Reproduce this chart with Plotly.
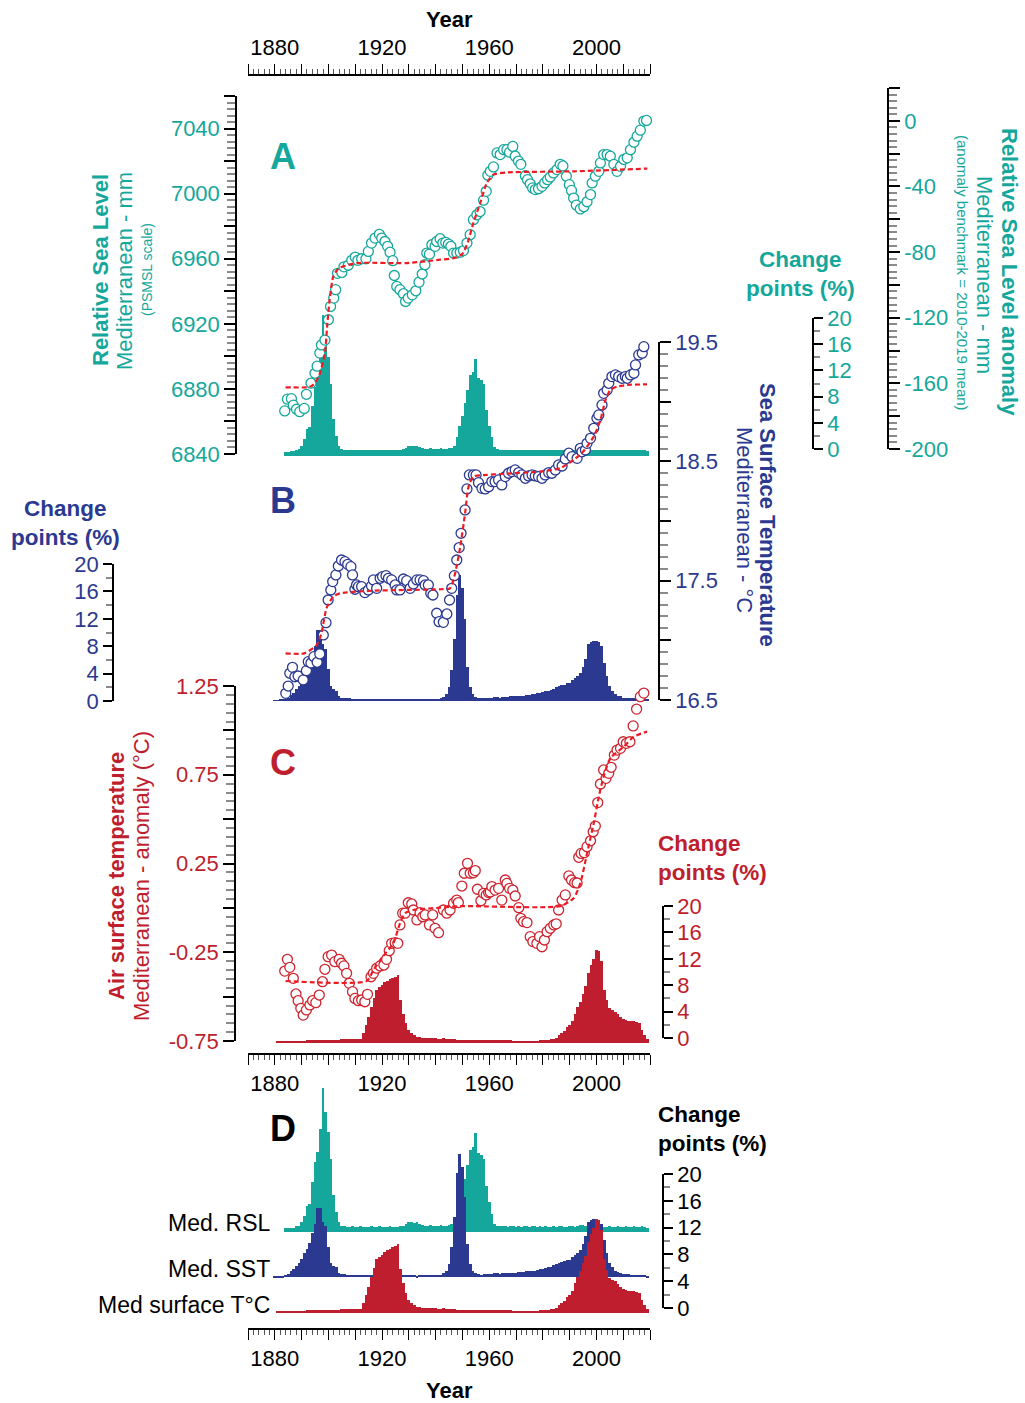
import plotly.graph_objects as go

W, H = 1025, 1403
def px(x): return x / W
def py(y): return 1 - y / H

TEAL = '#15A79B'
NAVY = '#2B3990'
RED = '#BE1E2D'
RED_PT = '#CC2530'
FIT = '#ED1C24'
FONT = 'Liberation Sans, Arial, sans-serif'

# ---------------- data ----------------
# Panel A: relative sea level (mm, PSMSL scale)
rsl_years = [1883.7,1884.7,1886.2,1886.9,1888.1,1889.3,1891.0,1891.8,1893.5,1895.0,
             1895.8,1896.8,1897.4,1898.7,1900.0,1900.8,1902.0,1902.7,1903.4,1905.0,
             1905.8,1907.4,1908.7,1910.0,1911.0,1912.4,1914.0,1914.9,1916.1,1917.4,
             1919.0,1919.9,1921.1,1922.1,1923.0,1924.0,1924.6,1925.5,1926.7,1928.0,
             1928.8,1929.8,1931.3,1932.6,1933.8,1935.0,1936.0,1936.7,1937.7,1938.6,
             1939.8,1940.4,1941.7,1942.7,1943.8,1944.8,1945.7,1946.7,1947.9,1949.2,
             1950.4,1951.7,1952.9,1954.1,1955.4,1956.6,1957.9,1958.9,1959.5,1960.4,
             1961.6,1962.9,1964.1,1965.4,1966.6,1967.6,1968.8,1969.7,1970.9,1971.8,
             1973.5,1974.3,1975.3,1976.2,1977.2,1978.4,1979.7,1980.7,1981.8,1982.8,
             1984.0,1985.3,1986.5,1987.5,1988.8,1989.9,1990.7,1991.5,1992.5,1994.0,
             1995.3,1996.5,1997.8,1998.4,1999.6,2000.9,2001.5,2002.7,2004.0,2005.2,
             2006.5,2007.7,2009.0,2010.2,2011.5,2012.7,2014.0,2015.2,2016.4,2017.7,
             2018.7]
rsl_vals = [6866.5,6873.7,6874.0,6870.0,6867.5,6866.0,6868.0,6876.7,6883.5,6889.6,
            6894.0,6902.0,6907.0,6910.0,6922.5,6930.7,6935.8,6941.0,6951.0,6951.6,
            6955.0,6956.0,6959.0,6961.0,6959.0,6960.0,6960.0,6964.5,6969.6,6972.7,
            6975.0,6972.7,6970.6,6967.6,6964.0,6958.8,6949.7,6943.0,6941.0,6938.5,
            6933.7,6935.8,6937.8,6940.3,6945.6,6950.6,6956.3,6963.5,6962.8,6968.6,
            6967.6,6970.6,6972.3,6969.6,6970.0,6969.0,6967.6,6963.5,6963.5,6964.0,
            6965.0,6969.6,6974.8,6984.0,6987.0,6989.0,6996.0,7001.4,7011.3,7013.7,
            7016.4,7025.0,7024.0,7027.0,7027.0,7025.5,7029.0,7023.0,7020.0,7018.0,
            7011.0,7008.6,7006.0,7003.5,7002.5,7003.0,7004.5,7006.6,7008.6,7010.3,
            7012.7,7014.8,7018.0,7017.0,7010.7,7005.5,7002.0,6997.3,6993.0,6990.6,
            6992.0,6995.0,6999.4,7006.6,7010.7,7013.7,7018.9,7024.0,7024.0,7023.0,
            7018.0,7013.7,7016.8,7021.0,7022.0,7027.0,7031.6,7035.3,7039.0,7044.6,
            7045.0]
rsl_fit_years = [1884, 1892, 1894, 1896.4, 1898.7, 1899.6, 1900.6, 1901.8, 1903.7, 1910.5,
                 1929, 1941.7, 1946.7, 1950, 1952, 1954.1, 1956.6, 1959.1, 1961.6, 1966.6,
                 1991.5, 2019]
rsl_fit_vals = [6881, 6881, 6882, 6887.6, 6902, 6920, 6936.8, 6949, 6954, 6957.3,
                6957.3, 6959.4, 6960.4, 6963, 6970, 6982, 6994, 7006.6, 7011.7, 7013,
                7013.7, 7015.4]
rsl_cp_years = list(range(1884, 2020))
rsl_cp = [0.6,0.6,0.7,0.7,0.9,1.0,1.5,
          2.5,4.0,4.3,7.6,10.5,12.0,15.5,21.5,18.0,15.0,
          11.0,5.6,3.0,1.5,1.0,0.9,0.8,0.8,0.9,0.8,
          0.8,0.9,0.8,0.8,0.8,0.9,0.8,0.8,0.9,0.8,
          0.8,0.8,0.9,0.8,0.8,0.8,0.9,1.0,1.2,1.5,
          1.5,1.4,1.5,1.3,1.1,1.0,1.0,1.1,1.0,1.0,
          1.0,1.1,1.0,1.0,1.1,1.2,1.5,2.8,4.6,6.0,
          8.0,10.0,12.3,12.8,14.8,11.8,11.5,11.0,7.0,4.5,
          2.8,1.3,1.0,0.9,0.9,0.9,0.8,0.9,0.9,0.8,
          0.9,0.8,0.9,0.9,0.8,0.9,0.9,0.8,0.9,0.8,
          0.9,0.8,0.8,0.9,0.8,0.9,0.9,0.8,0.8,0.9,
          0.9,0.8,1.0,1.1,1.1,1.0,0.9,0.9,0.8,0.9,
          0.8,0.9,0.8,0.8,0.9,0.8,0.8,0.9,0.8,0.8,
          0.9,0.8,0.8,0.9,0.8,0.8,0.9,0.8,0.7]

# Panel B: sea surface temperature (deg C)
sst_years = [1884.1,1885.0,1885.6,1886.6,1887.5,1888.7,1890.6,1891.8,1892.5,1893.5,
             1894.6,1895.8,1896.8,1898.1,1899.1,1899.9,1900.9,1901.6,1902.8,1903.7,
             1904.9,1906.2,1907.2,1908.4,1909.0,1909.9,1910.5,1911.2,1912.4,1913.6,
             1914.9,1916.1,1916.8,1918.0,1919.3,1920.2,1921.5,1922.4,1923.6,1924.9,
             1925.5,1926.7,1928.0,1929.2,1930.5,1931.7,1933.0,1934.2,1935.5,1936.1,
             1937.3,1938.2,1939.0,1940.4,1941.3,1942.9,1944.2,1945.2,1946.0,1947.0,
             1947.9,1948.8,1949.5,1951.0,1951.7,1952.6,1954.1,1955.1,1956.0,1957.3,
             1958.5,1959.8,1961.0,1962.2,1963.5,1964.7,1966.0,1967.2,1968.5,1969.7,
             1971.0,1972.2,1973.5,1974.7,1976.0,1977.2,1978.4,1979.7,1980.9,1982.2,
             1983.4,1984.7,1985.9,1987.2,1988.4,1989.7,1990.9,1992.8,1994.0,1994.6,
             1995.9,1996.5,1997.8,1999.0,2000.2,2000.9,2002.1,2002.7,2004.0,2004.6,
             2005.8,2007.1,2008.3,2009.6,2010.8,2011.5,2012.7,2014.0,2014.6,2015.8,
             2017.1,2017.7,2018.9]
sst_vals = [16.556,16.617,16.724,16.774,16.695,16.701,16.668,16.746,16.821,16.810,
            16.863,16.816,16.886,17.045,17.148,17.338,17.422,17.492,17.548,17.623,
            17.673,17.659,17.637,17.617,17.548,17.428,17.464,17.450,17.450,17.400,
            17.422,17.456,17.506,17.436,17.520,17.534,17.542,17.520,17.506,17.464,
            17.422,17.422,17.514,17.500,17.436,17.472,17.506,17.506,17.500,17.464,
            17.464,17.394,17.380,17.227,17.156,17.151,17.221,17.338,17.436,17.542,
            17.673,17.777,17.897,18.093,18.269,18.386,18.386,18.386,18.321,18.274,
            18.269,18.288,18.330,18.330,18.344,18.302,18.372,18.400,18.414,18.428,
            18.406,18.386,18.358,18.378,18.386,18.378,18.372,18.358,18.386,18.406,
            18.400,18.428,18.470,18.461,18.520,18.568,18.539,18.525,18.609,18.580,
            18.595,18.651,18.693,18.777,18.861,18.889,18.973,19.070,19.098,19.154,
            19.210,19.224,19.210,19.196,19.210,19.196,19.224,19.238,19.308,19.392,
            19.406,19.461,19.503]
sst_fit_years = [1884, 1891, 1895.6, 1897.4, 1899.3, 1901.8, 1904.3, 1916.8, 1941.7, 1945.4,
                 1947.3, 1949.2, 1951, 1952.3, 1954.1, 1959, 1964.1, 1979, 1986.5, 1991.5,
                 1995, 1999, 2001.5, 2003.4, 2005.2, 2007.7, 2011.5, 2018.9]
sst_fit_vals = [16.891, 16.891, 16.96, 17.059, 17.269, 17.366, 17.394, 17.416, 17.428, 17.436,
                17.562, 17.785, 18.065, 18.288, 18.372, 18.386, 18.394, 18.414, 18.442, 18.512,
                18.58, 18.707, 18.847, 19.015, 19.098, 19.126, 19.14, 19.145]
sst_cp_years = list(range(1880, 2020))
sst_cp = [0.1,0.1,0.15,0.2,0.3,0.5,0.9,1.2,1.7,2.2,
          2.7,3.7,4.3,5.1,6.6,8.0,10.3,10.3,8.3,7.6,
          4.6,2.2,1.7,1.5,0.7,0.5,0.5,0.4,0.4,0.35,
          0.3,0.3,0.3,0.3,0.3,0.3,0.3,0.3,0.3,0.3,
          0.3,0.3,0.25,0.3,0.3,0.3,0.25,0.3,0.3,0.3,
          0.3,0.3,0.3,0.25,0.3,0.3,0.3,0.3,0.3,0.3,
          0.3,0.3,0.4,0.6,1.0,2.0,4.5,9.0,15.5,18.4,
          16.5,12.0,5.0,2.0,1.0,0.6,0.5,0.4,0.5,0.5,
          0.5,0.5,0.6,0.6,0.5,0.6,0.6,0.6,0.7,0.7,
          0.7,0.8,0.8,0.8,0.9,0.9,1.0,1.0,1.1,1.2,
          1.3,1.4,1.5,1.6,1.8,2.0,2.2,2.3,2.4,2.6,
          2.6,3.0,3.4,3.6,4.1,5.0,6.1,8.3,8.6,8.7,
          8.7,8.6,8.0,5.6,3.7,2.2,1.5,1.0,0.8,0.7,
          0.5,0.5,0.5,0.4,0.4,0.4,0.3,0.3,0.3,0.2]

# Panel C: air surface temperature anomaly (deg C)
air_years = [1883.7,1884.7,1885.6,1886.9,1887.9,1888.7,1889.7,1890.6,1891.8,1893.1,
             1894.1,1895.3,1896.6,1897.8,1898.7,1899.9,1901.2,1902.4,1904.0,1904.9,
             1905.8,1906.8,1907.8,1909.0,1909.9,1911.2,1912.4,1913.6,1914.6,1915.9,
             1916.8,1918.0,1919.3,1920.7,1921.7,1922.7,1923.6,1924.9,1925.9,1926.7,
             1927.7,1928.6,1929.8,1931.1,1931.7,1933.0,1934.2,1935.2,1936.1,1937.7,
             1938.9,1939.8,1941.1,1942.9,1944.2,1945.4,1946.7,1947.9,1948.5,1949.8,
             1950.7,1951.9,1952.9,1954.1,1954.8,1955.6,1956.9,1957.9,1958.9,1959.8,
             1960.4,1961.0,1962.2,1963.5,1964.7,1966.0,1966.6,1967.6,1968.8,1969.7,
             1971.0,1971.8,1972.8,1974.1,1975.3,1976.3,1977.8,1978.8,1979.7,1980.6,
             1981.6,1982.8,1984.1,1985.0,1985.9,1987.2,1988.4,1989.7,1990.7,1991.9,
             1992.8,1993.4,1994.3,1995.5,1996.5,1997.8,1998.8,1999.6,2000.5,2001.5,
             2002.7,2003.6,2004.6,2005.5,2006.7,2007.7,2009.0,2010.0,2011.2,2012.5,
             2013.7,2015.0,2016.4,2017.7,2018.7]
air_vals = [-0.356,-0.290,-0.335,-0.397,-0.485,-0.523,-0.566,-0.604,-0.575,-0.547,
            -0.523,-0.534,-0.491,-0.416,-0.346,-0.275,-0.266,-0.303,-0.290,-0.312,
            -0.327,-0.369,-0.425,-0.472,-0.510,-0.523,-0.519,-0.529,-0.487,-0.388,
            -0.369,-0.340,-0.327,-0.322,-0.290,-0.241,-0.200,-0.196,-0.200,-0.096,
            -0.030,-0.030,0.029,0.022,-0.012,-0.068,-0.027,-0.050,-0.040,-0.096,
            -0.040,-0.115,-0.140,-0.012,-0.030,-0.012,0.026,0.044,0.030,0.123,
            0.195,0.251,0.195,0.198,0.210,0.105,0.040,0.082,0.073,0.086,
            0.090,0.120,0.100,0.110,0.044,0.157,0.138,0.110,0.100,0.067,
            0.001,-0.059,-0.078,-0.083,-0.162,-0.190,-0.200,-0.162,-0.219,-0.181,
            -0.134,-0.115,-0.096,-0.090,-0.012,0.044,0.073,0.180,0.157,0.142,
            0.140,0.285,0.307,0.311,0.345,0.378,0.429,0.461,0.593,0.698,
            0.777,0.730,0.758,0.792,0.861,0.889,0.899,0.936,0.927,0.936,
            1.025,1.120,1.190,1.210,1.293]
air_fit_years = [1884, 1914.3, 1916.8, 1920, 1924.2, 1926.7, 1928.6, 1931.7, 1941.7, 1949.2,
                 1986.5, 1991.5, 1994, 1996.5, 1999, 2000.9, 2002.7, 2005.2, 2010.2, 2013.9,
                 2018.9]
air_fit_vals = [-0.412, -0.412, -0.35, -0.28, -0.20, -0.087, -0.03, -0.012, 0.001, 0.01,
                0.01, 0.054, 0.138, 0.307, 0.476, 0.626, 0.739, 0.843, 0.908, 0.964,
                0.993]
air_cp_years = list(range(1881, 2020))
air_cp = [0.3,0.3,0.35,0.35,0.35,0.4,0.4,0.4,0.4,0.4,
          0.4,0.45,0.45,0.45,0.5,0.5,0.5,0.5,0.5,0.5,
          0.5,0.55,0.55,0.55,0.6,0.6,0.6,0.6,0.6,0.6,
          0.6,0.7,1.5,2.8,4.0,5.5,6.8,8.1,8.5,8.8,
          9.2,9.5,9.7,9.9,10.1,10.4,6.6,4.5,3.0,2.0,
          1.5,1.2,1.0,0.9,0.8,0.8,0.75,0.75,0.8,0.75,
          0.7,0.7,0.75,0.7,0.7,0.65,0.6,0.55,0.5,0.5,
          0.5,0.5,0.5,0.5,0.5,0.5,0.5,0.5,0.5,0.5,
          0.5,0.5,0.45,0.45,0.5,0.45,0.45,0.45,0.4,0.4,
          0.4,0.4,0.35,0.35,0.4,0.4,0.4,0.4,0.45,0.5,
          0.5,0.55,0.6,0.7,0.8,1.2,1.5,1.8,2.5,2.8,
          3.3,4.5,5.5,6.3,7.5,8.6,10.6,11.8,12.8,14.1,
          14.0,12.5,8.1,6.5,5.3,5.0,4.8,4.4,4.0,3.6,
          3.5,3.4,3.3,3.3,3.2,3.0,2.0,1.2,0.6]

# tick labels
year_tickvals = list(range(1870, 2021, 10))
year_labels = {1880: '1880', 1920: '1920', 1960: '1960', 2000: '2000'}
rsl_tickvals = list(range(6840, 7061, 20))
rsl_labels = ['6840', '6880', '6920', '6960', '7000', '7040']
anom_tickvals = list(range(-200, 21, 20))
anom_labels = ['0', '-40', '-80', '-120', '-160', '-200']
sst_tickvals = [16.5, 17.0, 17.5, 18.0, 18.5, 19.0, 19.5]
sst_labels = ['16.5', '17.5', '18.5', '19.5']
air_tickvals = [-0.75, -0.5, -0.25, 0.0, 0.25, 0.5, 0.75, 1.0, 1.25]
air_labels = ['-0.75', '-0.25', '0.25', '0.75', '1.25']
cp_tickvals = [0, 4, 8, 12, 16, 20]
cp_labels = ['0', '4', '8', '12', '16', '20']
d_series_labels = ['Med. RSL', 'Med. SST', 'Med surface T°C']

# layout constants for panel D stacking (in % units of the D bar axis)
D_BASE_RSL = 12.1
D_BASE_SST = 5.4
D_BASE_AIR = 0.0

# ---------------- figure ----------------
fig = go.Figure()

def bar(x, y, color, yaxis, base=None):
    return go.Bar(x=x, y=y, base=base, width=1.0, xaxis='x', yaxis=yaxis,
                  marker=dict(color=color, line=dict(width=0)), showlegend=False,
                  hoverinfo='skip')

def pts(x, y, color, yaxis):
    return go.Scatter(x=x, y=y, mode='markers', xaxis='x', yaxis=yaxis, cliponaxis=False,
                      marker=dict(symbol='circle', size=10, color='white',
                                  line=dict(color=color, width=1.3)), showlegend=False)

def fitline(x, y, yaxis):
    return go.Scatter(x=x, y=y, mode='lines', xaxis='x', yaxis=yaxis, cliponaxis=False,
                      line=dict(color=FIT, width=2.2, dash='5px,3px', shape='spline', smoothing=0.6),
                      showlegend=False)

def axis_holder(xaxis, yaxis):
    # empty trace so that an axis with no data of its own is still drawn
    return go.Scatter(x=[], y=[], mode='markers', xaxis=xaxis, yaxis=yaxis,
                      showlegend=False, hoverinfo='skip')

# A
fig.add_trace(bar(rsl_cp_years, rsl_cp, TEAL, 'y'))
fig.add_trace(pts(rsl_years, rsl_vals, TEAL, 'y2'))
fig.add_trace(fitline(rsl_fit_years, rsl_fit_vals, 'y2'))
fig.add_trace(axis_holder('x', 'y3'))
fig.add_trace(axis_holder('x', 'y4'))
# B
fig.add_trace(bar(sst_cp_years, sst_cp, NAVY, 'y5'))
fig.add_trace(pts(sst_years, sst_vals, NAVY, 'y6'))
fig.add_trace(fitline(sst_fit_years, sst_fit_vals, 'y6'))
# C
fig.add_trace(bar(air_cp_years, air_cp, RED, 'y7'))
fig.add_trace(pts(air_years, air_vals, RED_PT, 'y8'))
fig.add_trace(fitline(air_fit_years, air_fit_vals, 'y8'))
fig.add_trace(axis_holder('x', 'y9'))
fig.add_trace(axis_holder('x2', 'y9'))
# D
fig.add_trace(bar(rsl_cp_years, rsl_cp, TEAL, 'y10', base=D_BASE_RSL))
fig.add_trace(bar(sst_cp_years, sst_cp, NAVY, 'y10', base=D_BASE_SST))
fig.add_trace(bar(air_cp_years, air_cp, RED, 'y10', base=D_BASE_AIR))
fig.add_trace(axis_holder('x', 'y11'))
fig.add_trace(axis_holder('x3', 'y11'))

def labels_for(vals, shown):
    out = []
    for v in vals:
        s = ('%g' % v)
        out.append(s if s in shown else '')
    return out

XDOM = [px(248), px(650)]

def xruler(pos_y, side, overlay=None):
    d = dict(domain=XDOM, range=[1870, 2020], anchor='free', position=py(pos_y), side=side,
             showline=True, linecolor='black', linewidth=1.5,
             ticks='outside', ticklen=10, tickwidth=1.3, tickcolor='black',
             tickmode='array', tickvals=year_tickvals,
             ticktext=[year_labels.get(v, '') for v in year_tickvals],
             minor=dict(ticks='outside', tickmode='linear', tick0=1870, dtick=2, ticklen=5,
                        tickcolor='#555555', tickwidth=1),
             tickfont=dict(family=FONT, size=22, color='black'),
             showgrid=False, zeroline=False, automargin=False, fixedrange=True)
    if overlay:
        d['overlaying'] = overlay
    return d

def yax(top, bottom, rng, pos_x, side, color, tickvals=None, ticktext=None,
        minor_dtick=None, tick0=None, ticklen=11, minorlen=8, visible=True):
    d = dict(domain=[py(bottom), py(top)], range=rng, anchor='free', position=px(pos_x),
             side=side, visible=visible, showgrid=False, zeroline=False,
             automargin=False, fixedrange=True)
    if visible:
        d.update(showline=True, linecolor='black', linewidth=1.5,
                 ticks='outside', ticklen=ticklen, tickwidth=1.5, tickcolor='black',
                 tickmode='array', tickvals=tickvals, ticktext=ticktext,
                 tickfont=dict(family=FONT, size=22, color=color),
                 minor=dict(ticks='outside', tickmode='linear', tick0=tick0, dtick=minor_dtick,
                            ticklen=minorlen, tickcolor='#8a8a8a', tickwidth=1.5))
    return d

layout = dict(
    width=W, height=H, margin=dict(l=0, r=0, t=0, b=0), template='none',
    paper_bgcolor='white', plot_bgcolor='rgba(0,0,0,0)',
    barmode='overlay', bargap=0, showlegend=False,
    font=dict(family=FONT, size=22, color='black'),
    xaxis=xruler(75, 'top'),
    xaxis2=xruler(1054, 'bottom', overlay='x'),
    xaxis3=xruler(1329, 'bottom', overlay='x'),
    # A
    yaxis=yax(456 - 6.55 * 23, 456, [0, 23], 650, 'left', TEAL, visible=False),
    yaxis2=yax(96, 454, [6840, 7060], 236, 'left', TEAL, rsl_tickvals,
               labels_for(rsl_tickvals, rsl_labels), 4, 6840),
    yaxis3=yax(88, 449, [-200, 20], 888, 'right', TEAL, anom_tickvals,
               labels_for(anom_tickvals, anom_labels), 4, -200),
    yaxis4=yax(318, 449, [0, 20], 813, 'right', TEAL, cp_tickvals, cp_labels, 2, 0,
               ticklen=9, minorlen=6),
    # B
    yaxis5=yax(564, 701, [0, 20], 113, 'left', NAVY, cp_tickvals, cp_labels, 2, 0,
               ticklen=9, minorlen=6),
    yaxis6=yax(342, 700, [16.5, 19.5], 659, 'right', NAVY, sst_tickvals,
               labels_for(sst_tickvals, sst_labels), 0.1, 16.5),
    # C
    yaxis7=yax(1043 - 6.6 * 22, 1043, [0, 22], 650, 'left', RED, visible=False),
    yaxis8=yax(686, 1041, [-0.75, 1.25], 235, 'left', RED, air_tickvals,
               labels_for(air_tickvals, air_labels), 0.05, -0.75),
    yaxis9=yax(906, 1038, [0, 20], 663, 'right', RED, cp_tickvals, cp_labels, 2, 0,
               ticklen=9, minorlen=6),
    # D
    yaxis10=yax(1313 - 6.7 * 35, 1313, [0, 35], 650, 'left', 'black', visible=False),
    yaxis11=yax(1174, 1308, [0, 20], 663, 'right', 'black', cp_tickvals, cp_labels, 2, 0,
                ticklen=9, minorlen=6),
)
fig.update_layout(**layout)

def ann(text, x, y, size=22, color='black', angle=0, xanchor='center', bold=False, align='center'):
    t = '<b>%s</b>' % text if bold else text
    fig.add_annotation(text=t, x=px(x), y=py(y), xref='paper', yref='paper', showarrow=False,
                       xanchor=xanchor, yanchor='middle', textangle=angle, align=align,
                       font=dict(family=FONT, size=size, color=color))

CP_SIZE = 22.5
# titles
ann('Year', 449, 20, 22, 'black', bold=True)
ann('Year', 449, 1390, 22, 'black', bold=True)
# panel A
ann('A', 283, 157, 36, TEAL, bold=True)
ann('Relative Sea Level', 101, 270, 22, TEAL, -90, bold=True)
ann('Mediterranean - mm', 125, 271, 22, TEAL, -90)
ann('(PSMSL scale)', 147, 270, 14, TEAL, -90)
ann('Relative Sea Level anomaly', 1009, 272, 22, TEAL, 90, bold=True)
ann('Mediterranean - mm', 985, 275, 22, TEAL, 90)
ann('(anomaly benchmark = 2010-2019 mean)', 962, 273, 15, TEAL, 90)
ann('Change<br>points (%)', 800, 274, CP_SIZE, TEAL, bold=True)
# panel B
ann('B', 283, 500, 36, NAVY, bold=True)
ann('Sea Surface Temperature', 768, 515, 22, NAVY, 90, bold=True)
ann('Mediterranean - °C', 745, 520, 22, NAVY, 90)
ann('Change<br>points (%)', 65, 523, CP_SIZE, NAVY, bold=True)
# panel C
ann('C', 283, 762, 36, RED, bold=True)
ann('Air surface temperature', 116, 876, 22, RED, -90, bold=True)
ann('Mediterranean - anomaly (°C)', 141, 876, 22, RED, -90)
ann('Change<br>points (%)', 656, 858, CP_SIZE, RED, xanchor='left', bold=True, align='left')
# panel D
ann('D', 283, 1128, 36, 'black', bold=True)
ann('Change<br>points (%)', 656, 1129, CP_SIZE, 'black', xanchor='left', bold=True, align='left')
for lab, yy in zip(d_series_labels, [1223, 1269, 1305]):
    ann(lab, 272, yy, 23, 'black', xanchor='right')

# remove the default page margin so the figure sits at the window origin
fig.write_html('out.html', config={'displayModeBar': False},
               post_script="document.body.style.margin='0';"
               "document.body.style.padding='0';")
